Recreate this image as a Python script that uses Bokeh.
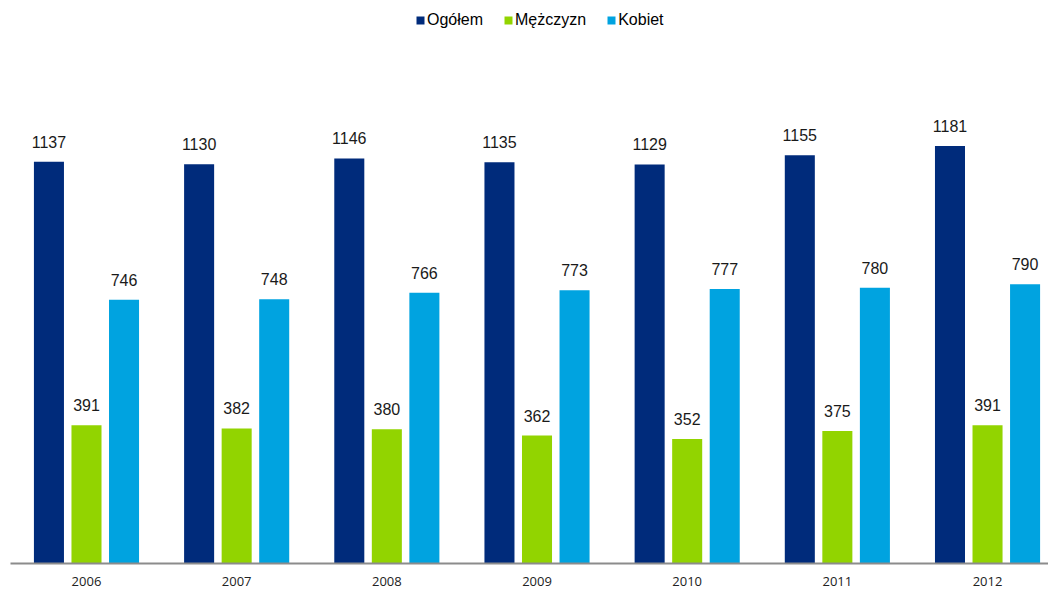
from bokeh.plotting import figure
from bokeh.models import ColumnDataSource, FixedTicker, LabelSet, Legend, LegendItem
from bokeh.core.properties import value
from bokeh.transform import dodge
from bokeh.embed import file_html
from bokeh.resources import INLINE

years = ["2006", "2007", "2008", "2009", "2010", "2011", "2012"]
ogolem = [1137, 1130, 1146, 1135, 1129, 1155, 1181]
mezczyzn = [391, 382, 380, 362, 352, 375, 391]
kobiet = [746, 748, 766, 773, 777, 780, 790]

series = [
    ("Ogółem", ogolem, "#002B7B", -0.25),
    ("Mężczyzn", mezczyzn, "#92D400", 0.0),
    ("Kobiet", kobiet, "#00A3E0", 0.25),
]

xi = list(range(len(years)))

p = figure(width=1048, height=590, output_backend="svg", toolbar_location=None,
           x_range=(-0.506, 6.406), y_range=(0, 1593),
           min_border_left=10, min_border_right=0, min_border_top=0, min_border_bottom=27)

items = []
for name, vals, color, off in series:
    src = ColumnDataSource(dict(x=xi, v=vals, t=[str(v) for v in vals]))
    r = p.vbar(x=dodge("x", off), top="v", width=0.2, source=src,
               fill_color=color, line_color=None)
    items.append(LegendItem(label=name, renderers=[r]))
    lab = LabelSet(x=dodge("x", off), y="v", text="t", source=src,
                   text_align="center", text_baseline="alphabetic", y_offset=14,
                   text_font=value("Liberation Sans"), text_font_size="16px",
                   text_color="#1a1a1a")
    p.add_layout(lab)

legend = Legend(items=items, orientation="horizontal", location=(405, 534),
                glyph_width=10, glyph_height=10, label_standoff=2, spacing=20,
                padding=0, margin=0, border_line_color=None, background_fill_alpha=0,
                label_text_font="Liberation Sans", label_text_font_size="16px",
                label_text_color="#000000")
p.add_layout(legend)

p.xaxis.ticker = FixedTicker(ticks=xi)
p.xaxis.major_label_overrides = {i: y for i, y in zip(xi, years)}
p.xaxis.major_tick_line_color = None
p.xaxis.minor_tick_line_color = None
p.xaxis.axis_line_color = "#8c8c8c"
p.xaxis.axis_line_width = 2
p.xaxis.major_label_standoff = 7
p.xaxis.major_label_text_font = "Open Sans"
p.xaxis.major_label_text_font_size = "13px"
p.xaxis.major_label_text_color = "#222222"
p.yaxis.visible = False
p.xgrid.grid_line_color = None
p.ygrid.grid_line_color = None
p.outline_line_color = None

open("out.html", "w").write(file_html(p, INLINE))
